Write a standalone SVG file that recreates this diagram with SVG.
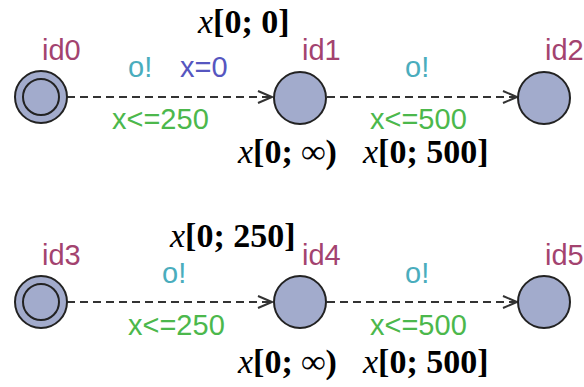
<svg xmlns="http://www.w3.org/2000/svg" width="584" height="387" viewBox="0 0 584 387">
<defs>
<style>
.node{fill:#a2abcc;stroke:#222;stroke-width:2}
.id{font-family:"Liberation Sans",Arial,sans-serif;font-size:29px;fill:#a3436f}
.sync{font-family:"Liberation Sans",Arial,sans-serif;font-size:29px;fill:#4aadbd}
.upd{font-family:"Liberation Sans",Arial,sans-serif;font-size:29px;fill:#5656c0}
.grd{font-family:"Liberation Sans",Arial,sans-serif;font-size:29px;fill:#4cb84c}
.math{font-family:"Liberation Serif","Times New Roman",serif;font-size:34px;fill:#000;font-weight:bold}
.math .v{font-style:italic;font-weight:normal}
.edge{fill:none;stroke:#333;stroke-width:2;stroke-dasharray:8 5}
.head{fill:none;stroke:#333;stroke-width:2}
</style>
</defs>
<rect width="584" height="387" fill="#fff"/>
<g id="connectors">
<line class="edge" x1="67" y1="97" x2="272" y2="97"/>
<polyline class="head" points="258,91 272,97 258,103"/>
<line class="edge" x1="327" y1="97" x2="517" y2="97"/>
<polyline class="head" points="503,91 517,97 503,103"/>
<line class="edge" x1="67" y1="302" x2="272" y2="302"/>
<polyline class="head" points="258,296 272,302 258,308"/>
<line class="edge" x1="327" y1="302" x2="517" y2="302"/>
<polyline class="head" points="503,296 517,302 503,308"/>
</g>
<g id="id0">
<circle class="node" cx="41" cy="97" r="26"/>
<circle class="node" cx="41" cy="97" r="18"/>
<text class="id" x="42" y="60">id0</text>
</g>
<g id="id1">
<circle class="node" cx="300" cy="98" r="26"/>
<text class="id" x="302" y="60">id1</text>
</g>
<g id="id2">
<circle class="node" cx="544" cy="98" r="26"/>
<text class="id" x="545" y="60">id2</text>
</g>
<g id="id3">
<circle class="node" cx="41" cy="302" r="26"/>
<circle class="node" cx="41" cy="302" r="18"/>
<text class="id" x="42" y="265">id3</text>
</g>
<g id="id4">
<circle class="node" cx="300" cy="302" r="26"/>
<text class="id" x="302" y="265">id4</text>
</g>
<g id="id5">
<circle class="node" cx="544" cy="302" r="26"/>
<text class="id" x="545" y="265">id5</text>
</g>
<g id="labels">
<text class="sync" x="128" y="77">o!</text>
<text class="upd" x="180" y="77">x=0</text>
<text class="grd" x="112" y="129">x&lt;=250</text>
<text class="sync" x="405" y="77">o!</text>
<text class="grd" x="370" y="129">x&lt;=500</text>
<text class="sync" x="162" y="283">o!</text>
<text class="grd" x="128" y="335">x&lt;=250</text>
<text class="sync" x="405" y="283">o!</text>
<text class="grd" x="370" y="335">x&lt;=500</text>
<text class="math" x="198" y="33"><tspan class="v">x</tspan>[0; 0]</text>
<text class="math" x="238" y="163"><tspan class="v">x</tspan>[0; ∞)</text>
<text class="math" x="363" y="163"><tspan class="v">x</tspan>[0; 500]</text>
<text class="math" x="170" y="247"><tspan class="v">x</tspan>[0; 250]</text>
<text class="math" x="238" y="373"><tspan class="v">x</tspan>[0; ∞)</text>
<text class="math" x="363" y="373"><tspan class="v">x</tspan>[0; 500]</text>
</g>
</svg>
